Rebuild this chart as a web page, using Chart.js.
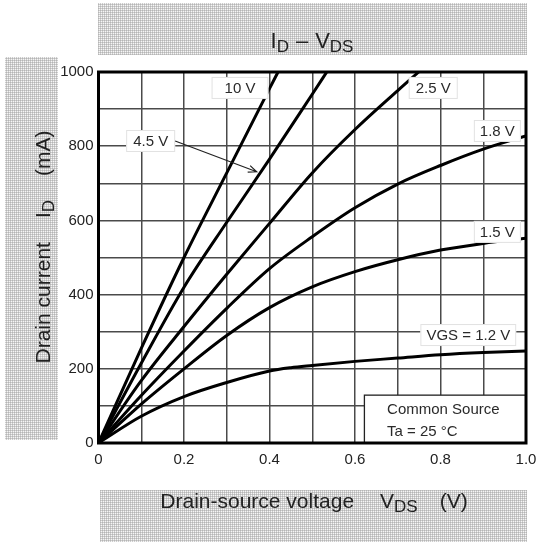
<!DOCTYPE html>
<html>
<head>
<meta charset="utf-8">
<script src="https://cdn.jsdelivr.net/npm/chart.js@4.4.1/dist/chart.umd.min.js"></script>
<style>
  body { margin: 0; background: #fff; }
  canvas { display: block; }
</style>
</head>
<body>
<canvas id="myChart" width="538" height="543"></canvas>
<script>
// I_D - V_DS, one array of [V_DS (V), I_D (mA)] per gate voltage
const curve10V = [[0,0],[0.1,255],[0.2,500],[0.3,728],[0.4,955],[0.42,1000]];
const curve4V5 = [[0,0],[0.1,215],[0.2,420],[0.3,595],[0.4,765],[0.5,940],[0.534,1000]];
const curve2V5 = [[0,0],[0.1,168],[0.2,314],[0.3,455],[0.4,592],[0.5,728],[0.6,845],[0.7,950],[0.749,1000]];
const curve1V8 = [[0,0],[0.1,128],[0.2,248],[0.3,363],[0.4,470],[0.5,556],[0.6,634],[0.7,698],[0.8,748],[0.9,792],[1.0,828]];
const curve1V5 = [[0,0],[0.1,105],[0.2,200],[0.3,290],[0.4,365],[0.5,421],[0.6,462],[0.7,494],[0.8,520],[0.9,538],[1.0,552]];
const curve1V2 = [[0,0],[0.1,72],[0.2,125],[0.3,163],[0.4,194],[0.45,203],[0.5,209],[0.6,220],[0.7,229],[0.8,238],[0.9,244],[1.0,248]];

const curveLabels = ['10 V', '4.5 V', '2.5 V', '1.8 V', '1.5 V', 'VGS = 1.2 V'];
// where each label sits, in data units [V_DS, I_D]
const labelAt = [[0.331,957],[0.122,814],[0.783,957],[0.933,841],[0.933,569],[0.865,291]];
const labelPad = [13, 7, 7, 6, 6, 6];
const arrowTip = [0.370, 731];   // 4.5 V pointer

const xTickLabels = ['0', '0.2', '0.4', '0.6', '0.8', '1.0'];
const yTickLabels = ['0', '200', '400', '600', '800', '1000'];
const noteLines = ['Common Source', 'Ta = 25 °C'];

const FONT = '"Liberation Sans", Arial, sans-serif';
Chart.defaults.font.family = FONT;

function hatchPattern(ctx) {
  const c = document.createElement('canvas');
  c.width = 2; c.height = 2;
  const g = c.getContext('2d');
  g.fillStyle = '#f6f6f6'; g.fillRect(0, 0, 2, 2);
  g.fillStyle = '#cdcdcd'; g.fillRect(0, 0, 2, 1); g.fillRect(0, 0, 1, 2);
  g.fillStyle = '#b5b5b5'; g.fillRect(0, 0, 1, 1);
  return ctx.createPattern(c, 'repeat');
}

// text with subscripts: parts = {t, size, dy, gap}
function drawRich(ctx, parts, x, y) {
  let w = 0;
  parts.forEach(p => {
    ctx.font = p.size + 'px ' + FONT;
    p.w = ctx.measureText(p.t).width;
    w += p.w + (p.gap || 0);
  });
  let cx = x - w / 2;
  ctx.textAlign = 'left';
  ctx.textBaseline = 'alphabetic';
  parts.forEach(p => {
    cx += p.gap || 0;
    ctx.font = p.size + 'px ' + FONT;
    ctx.fillText(p.t, cx, y + (p.dy || 0));
    cx += p.w;
  });
}

const decor = {
  id: 'decor',
  beforeDraw(chart) {
    const ctx = chart.ctx;
    ctx.save();
    ctx.fillStyle = '#fff';
    ctx.fillRect(0, 0, chart.width, chart.height);
    const pat = hatchPattern(ctx);
    ctx.fillStyle = pat;
    ctx.fillRect(98, 3, 429, 52);    // title band
    ctx.fillRect(5, 57, 53, 383);    // y title band
    ctx.fillRect(100, 490, 427, 52); // x title band

    ctx.fillStyle = '#222';
    drawRich(ctx, [
      {t: 'I', size: 22}, {t: 'D', size: 17, dy: 4},
      {t: '–', size: 22, gap: 7}, {t: 'V', size: 22, gap: 7}, {t: 'DS', size: 17, dy: 4}
    ], 312, 48);
    drawRich(ctx, [
      {t: 'Drain-source voltage', size: 21},
      {t: 'V', size: 21, gap: 26}, {t: 'DS', size: 17, dy: 4},
      {t: '(V)', size: 21, gap: 22}
    ], 314, 508);
    ctx.translate(50, 247);
    ctx.rotate(-Math.PI / 2);
    drawRich(ctx, [
      {t: 'Drain current', size: 21},
      {t: 'I', size: 21, gap: 24}, {t: 'D', size: 17, dy: 4},
      {t: '(mA)', size: 21, gap: 24}
    ], 0, 0);
    ctx.restore();
  },
  afterDatasetsDraw(chart) {
    const ctx = chart.ctx, xs = chart.scales.x, ys = chart.scales.y;
    const a = chart.chartArea;
    ctx.save();
    ctx.font = '15px ' + FONT;
    ctx.textBaseline = 'middle';
    ctx.textAlign = 'center';
    curveLabels.forEach((lab, i) => {
      const cx = xs.getPixelForValue(labelAt[i][0]);
      const cy = ys.getPixelForValue(labelAt[i][1]);
      const w = ctx.measureText(lab).width + 2 * labelPad[i];
      ctx.fillStyle = '#fff';
      ctx.fillRect(cx - w / 2, cy - 11, w, 22);
      ctx.strokeStyle = '#e2e2e2';
      ctx.lineWidth = 1;
      ctx.strokeRect(cx - w / 2 + 0.5, cy - 10.5, w - 1, 21);
      ctx.fillStyle = '#2a2a2a';
      ctx.fillText(lab, cx, cy + 1);
    });

    // pointer for 4.5 V
    const lx = xs.getPixelForValue(labelAt[1][0]);
    const ly = ys.getPixelForValue(labelAt[1][1]);
    const w45 = ctx.measureText(curveLabels[1]).width + 2 * labelPad[1];
    const sx = lx + w45 / 2, sy = ly;
    const tx = xs.getPixelForValue(arrowTip[0]), ty = ys.getPixelForValue(arrowTip[1]);
    const ang = Math.atan2(ty - sy, tx - sx);
    ctx.strokeStyle = '#222';
    ctx.lineWidth = 1.2;
    ctx.beginPath();
    ctx.moveTo(sx, sy); ctx.lineTo(tx, ty);
    ctx.moveTo(tx - 9 * Math.cos(ang - 0.4), ty - 9 * Math.sin(ang - 0.4));
    ctx.lineTo(tx, ty);
    ctx.lineTo(tx - 9 * Math.cos(ang + 0.4), ty - 9 * Math.sin(ang + 0.4));
    ctx.stroke();

    // conditions box
    const bx = xs.getPixelForValue(0.622), by = ys.getPixelForValue(129);
    ctx.fillStyle = '#fff';
    ctx.fillRect(bx, by, a.right - bx, a.bottom - by);
    ctx.strokeStyle = '#222';
    ctx.lineWidth = 1.3;
    ctx.strokeRect(bx, by, a.right - bx, a.bottom - by);
    ctx.fillStyle = '#2a2a2a';
    ctx.textAlign = 'left';
    ctx.font = '15px ' + FONT;
    ctx.fillText(noteLines[0], xs.getPixelForValue(0.675), ys.getPixelForValue(89));
    ctx.fillText(noteLines[1], xs.getPixelForValue(0.675), ys.getPixelForValue(30));

    // frame
    ctx.strokeStyle = '#000';
    ctx.lineWidth = 3;
    ctx.strokeRect(a.left, a.top, a.right - a.left, a.bottom - a.top);
    ctx.restore();
  }
};

const ctx = document.getElementById('myChart').getContext('2d');
const curves = [curve10V, curve4V5, curve2V5, curve1V8, curve1V5, curve1V2];

new Chart(ctx, {
  type: 'line',
  data: {
    datasets: curves.map((c, i) => ({
      label: curveLabels[i],
      data: c.map(p => ({x: p[0], y: p[1]})),
      borderColor: '#000',
      borderWidth: 3,
      pointRadius: 0,
      fill: false,
      cubicInterpolationMode: 'monotone'
    }))
  },
  options: {
    responsive: false,
    animation: false,
    layout: {padding: {top: 72, right: 12, left: 0, bottom: 0}},
    plugins: {legend: {display: false}, tooltip: {enabled: false}},
    scales: {
      x: {
        type: 'linear', min: 0, max: 1,
        afterFit: s => { s.height = 100; s.paddingRight = 0; s.paddingLeft = 0; },
        grid: {color: '#4a4a4a', lineWidth: 1.5, drawTicks: false},
        border: {display: false},
        ticks: {
          stepSize: 0.1, autoSkip: false, maxRotation: 0, padding: 8,
          color: '#222', font: {size: 15},
          callback: v => { const k = Math.round(v * 10); return k % 2 === 0 ? xTickLabels[k / 2] : ''; }
        }
      },
      y: {
        type: 'linear', min: 0, max: 1000,
        afterFit: s => { s.width = 98.5; s.paddingTop = 0; s.paddingBottom = 0; },
        grid: {color: '#4a4a4a', lineWidth: 1.5, drawTicks: false},
        border: {display: false},
        ticks: {
          stepSize: 100, autoSkip: false, padding: 5,
          color: '#222', font: {size: 15},
          callback: v => v % 200 === 0 ? yTickLabels[v / 200] : ''
        }
      }
    }
  },
  plugins: [decor]
});
</script>
</body>
</html>
